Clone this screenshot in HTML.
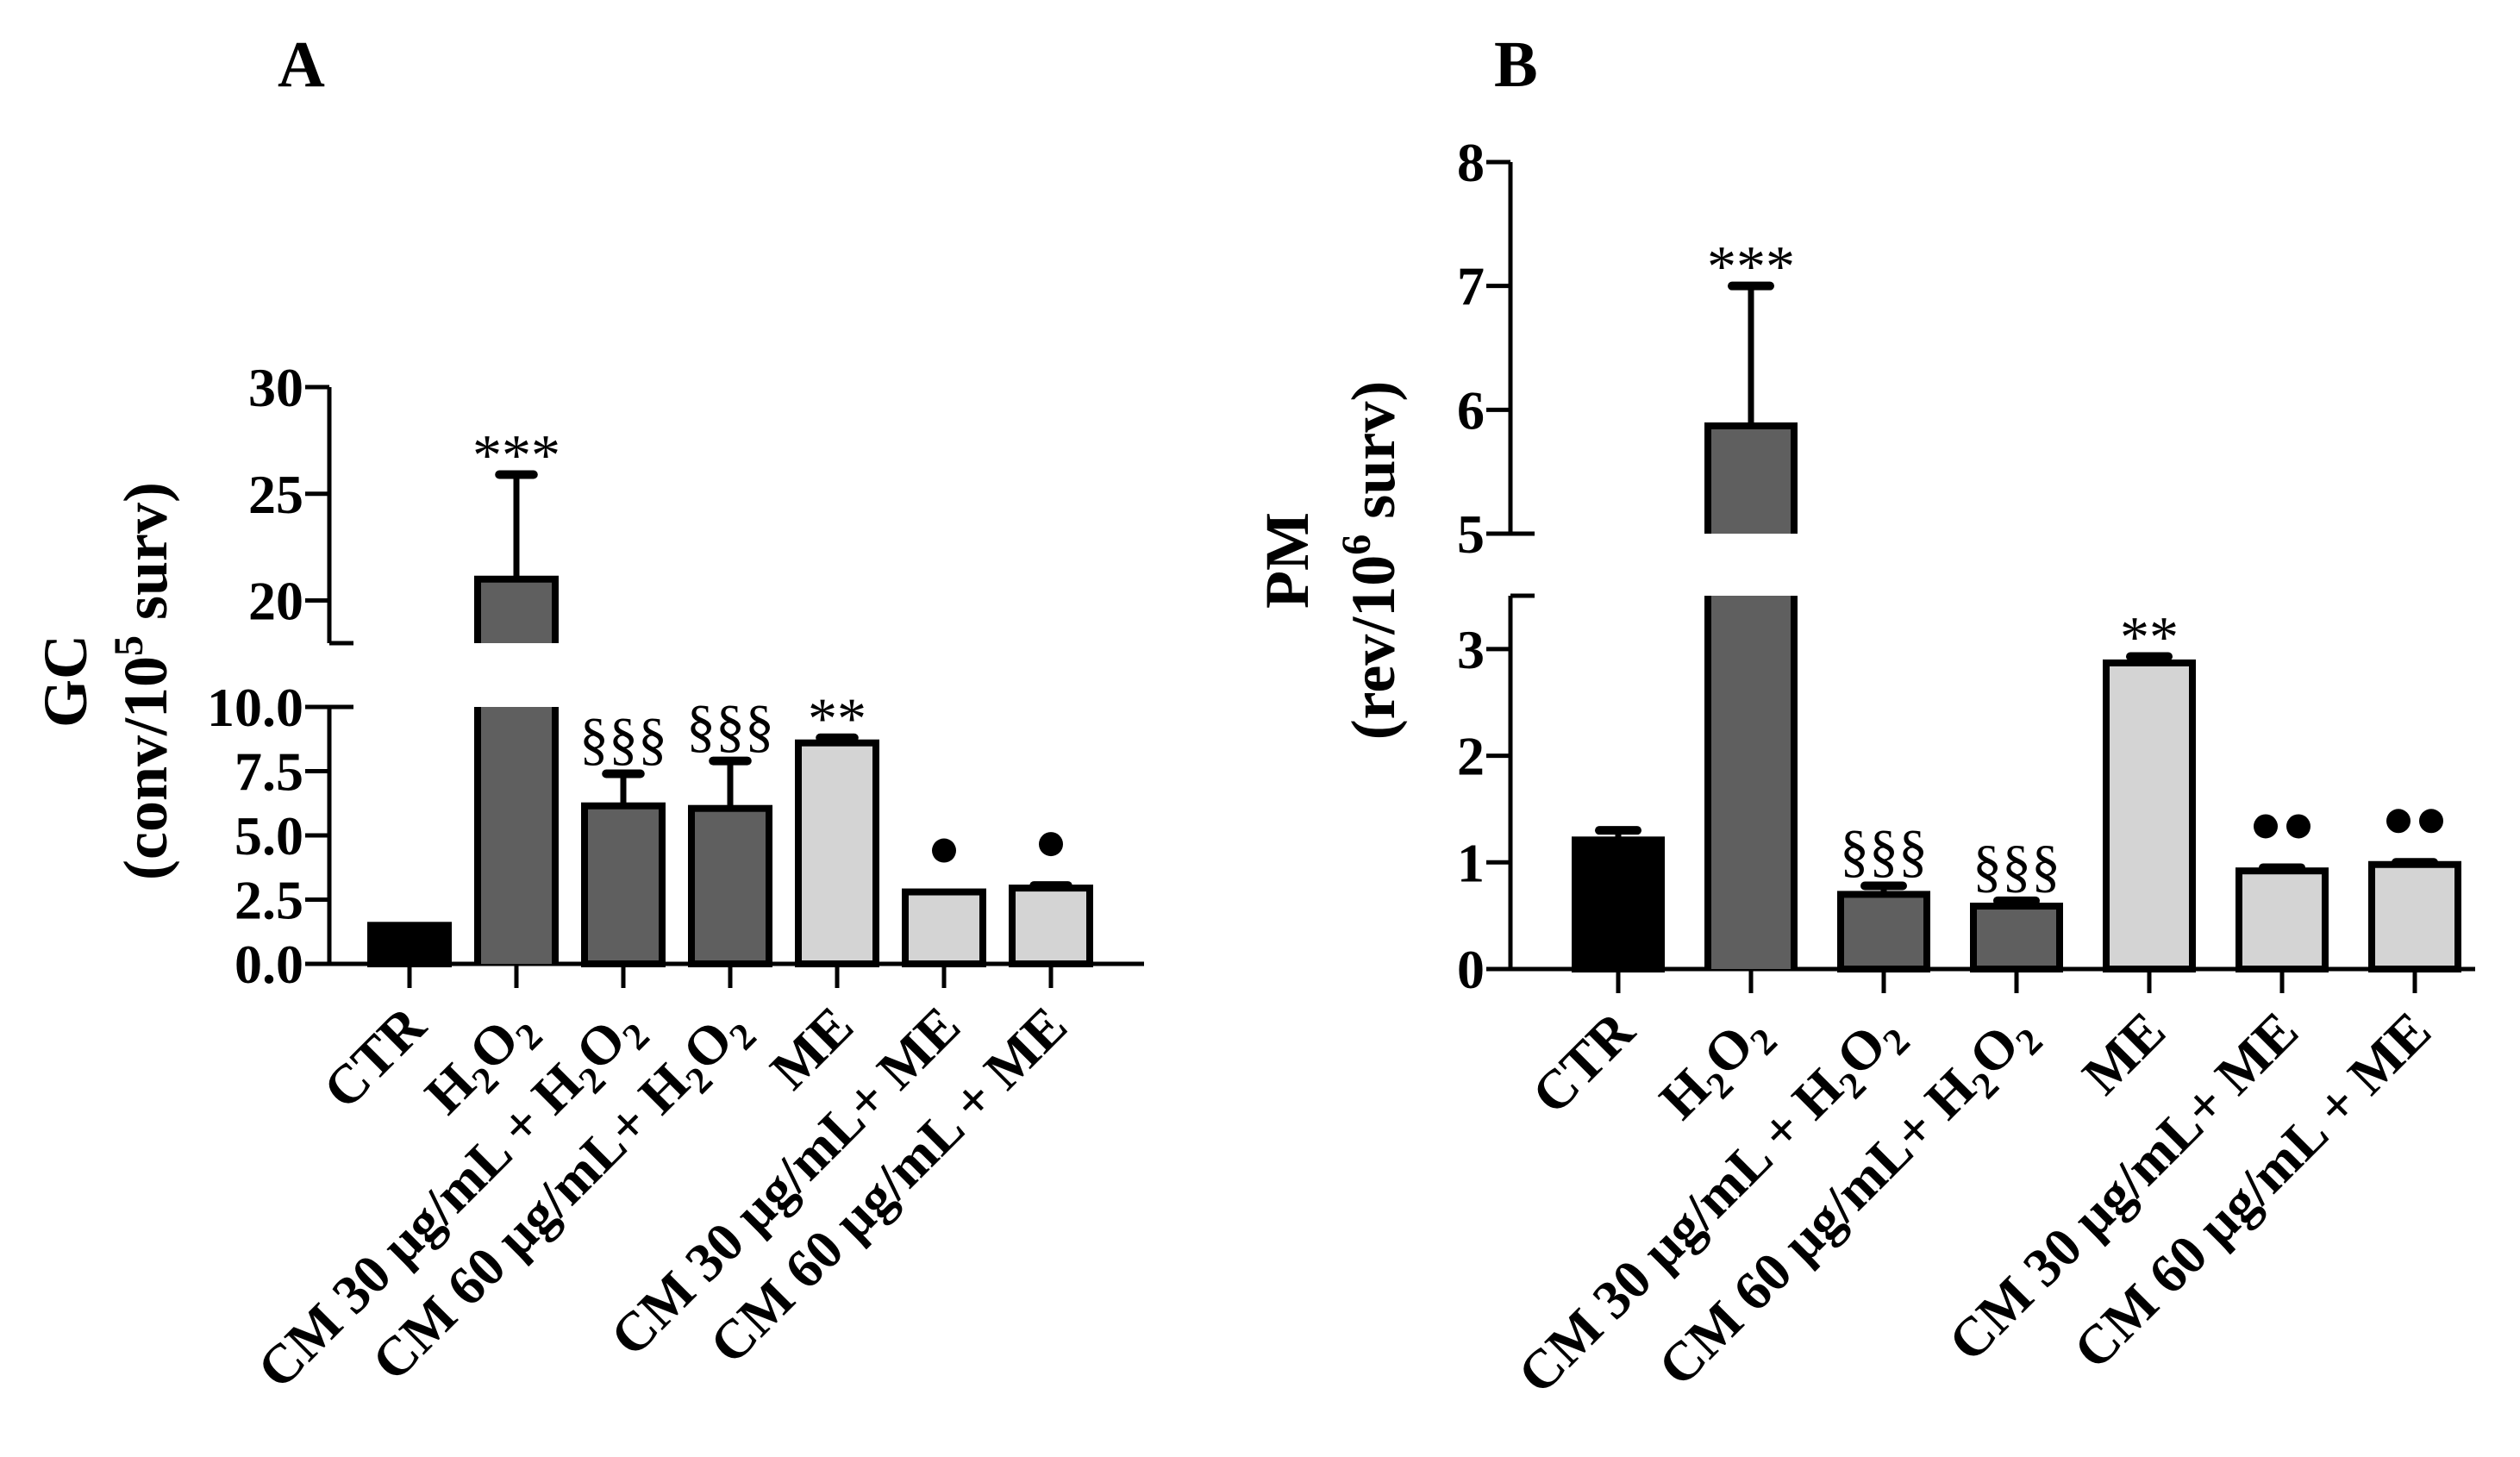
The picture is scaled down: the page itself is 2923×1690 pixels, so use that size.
<!DOCTYPE html>
<html><head><meta charset="utf-8"><style>
html,body{margin:0;padding:0;background:#fff;}
svg{display:block;font-family:"Liberation Serif",serif;}
</style></head><body>
<svg id="fig" width="2923" height="1690" viewBox="0 0 2923 1690" xmlns="http://www.w3.org/2000/svg">
<text x="322" y="100" font-size="76" font-weight="bold">A</text>
<text x="1733" y="100" font-size="76" font-weight="bold">B</text>
<g transform="translate(100,790) rotate(-90)" font-weight="bold" font-size="72" text-anchor="middle">
<text x="0" y="0">GC</text>
<text x="0" y="93">(conv/10<tspan font-size="48" dy="-28">5</tspan><tspan dy="28"> surv)</tspan></text>
</g>
<g transform="translate(1517,650) rotate(-90)" font-weight="bold" font-size="72" text-anchor="middle">
<text x="0" y="0">PM</text>
<text x="0" y="100">(rev/10<tspan font-size="48" dy="-28">6</tspan><tspan dy="28"> surv)</tspan></text>
</g>
<g id="pa"></g>
<g id="pb"></g>
</svg>
<script>
const categories = ["CTR","H2O2","CM 30 µg/mL + H2O2","CM 60 µg/mL+ H2O2","ME","CM 30 µg/mL+ ME","CM 60 µg/mL + ME"];
const colors = ["#000000","#5f5f5f","#5f5f5f","#5f5f5f","#d4d4d4","#d4d4d4","#d4d4d4"];
const gcValues = [1.5, 21.0, 6.15, 6.05, 8.6, 2.8, 2.95];
const gcErrors = [0, 4.9, 1.25, 1.85, 0.2, 0, 0.1];
const gcMarks = ["","***","§§§","§§§","**","•","•"];
const pmValues = [1.21, 5.87, 0.70, 0.59, 2.87, 0.92, 0.98];
const pmErrors = [0.09, 1.13, 0.08, 0.05, 0.06, 0.03, 0.02];
const pmMarks = ["","***","§§§","§§§","**","••","••"];
const gcLowTicks = ["0.0","2.5","5.0","7.5","10.0"];
const gcHighTicks = ["20","25","30"];
const pmLowTicks = ["0","1","2","3"];
const pmHighTicks = ["5","6","7","8"];

const NS="http://www.w3.org/2000/svg";
function mk(parent,tag,attrs){const e=document.createElementNS(NS,tag);for(const k in attrs)e.setAttribute(k,attrs[k]);parent.appendChild(e);return e;}

function drawPanel(g,cfg){
  const {ax,axEnd,y0,lowMax,lowTop,hiMin,hiMinY,hiMax,hiMaxY,x0,step,bw,values,errors,marks,lowTicks,hiTicks,tickFont,markFont}=cfg;
  const yLow=v=>y0-(v/lowMax)*(y0-lowTop);
  const yHi=v=>hiMinY-(v-hiMin)/(hiMax-hiMin)*(hiMinY-hiMaxY);
  const yOf=v=>v>lowMax?yHi(v):yLow(v);
  const xOf=i=>x0+i*step;
  const sw=8;
  let l=mk(g,'line',{x1:ax,y1:y0,x2:ax,y2:lowTop,stroke:'#000','stroke-width':5});
  
  
  l=mk(g,'line',{x1:ax,y1:hiMinY,x2:ax,y2:hiMaxY,stroke:'#000','stroke-width':5});
  
  
  l=mk(g,'line',{x1:ax-28,y1:y0,x2:axEnd,y2:y0,stroke:'#000','stroke-width':5});
  
  
  lowTicks.forEach(t=>{const y=yLow(parseFloat(t));
    mk(g,'line',{x1:ax-28,y1:y,x2:ax,y2:y,stroke:'#000','stroke-width':5});
    const tx=mk(g,'text',{x:ax-30,y:y+22,'font-size':tickFont,'font-weight':'bold','text-anchor':'end'});tx.textContent=t;
    
    });
  hiTicks.forEach(t=>{const y=yHi(parseFloat(t));
    mk(g,'line',{x1:ax-28,y1:y,x2:ax,y2:y,stroke:'#000','stroke-width':5});
    const tx=mk(g,'text',{x:ax-30,y:y+22,'font-size':tickFont,'font-weight':'bold','text-anchor':'end'});tx.textContent=t;
    
    });
  mk(g,'line',{x1:ax,y1:hiMinY,x2:ax+28,y2:hiMinY,stroke:'#000','stroke-width':5});
  mk(g,'line',{x1:ax,y1:lowTop,x2:ax+28,y2:lowTop,stroke:'#000','stroke-width':5});
  values.forEach((v,i)=>{
    const cx=xOf(i),x=cx-bw/2;
    mk(g,'line',{x1:cx,y1:y0,x2:cx,y2:y0+28,stroke:'#000','stroke-width':5});
    const bg=mk(g,'g',{});
    
    
    const top=yOf(v),errTop=yOf(v+errors[i]);
    if(errors[i]>0){
      mk(bg,'line',{x1:cx,y1:top,x2:cx,y2:errTop,stroke:'#000','stroke-width':7});
      mk(bg,'line',{x1:cx-bw*0.22,y1:errTop,x2:cx+bw*0.22,y2:errTop,stroke:'#000','stroke-width':10,'stroke-linecap':'round'});
    }
    if(v>lowMax){
      mk(bg,'rect',{x:x,y:lowTop,width:bw,height:y0-lowTop,fill:colors[i]});
      mk(bg,'path',{d:`M${x} ${y0}V${lowTop}M${x+bw} ${y0}V${lowTop}`,stroke:'#000','stroke-width':sw,fill:'none'});
      mk(bg,'rect',{x:x,y:top,width:bw,height:hiMinY-top,fill:colors[i]});
      mk(bg,'path',{d:`M${x} ${hiMinY}V${top}H${x+bw}V${hiMinY}`,stroke:'#000','stroke-width':sw,fill:'none'});
    } else {
      mk(bg,'rect',{x:x,y:top,width:bw,height:y0-top,fill:colors[i],stroke:'#000','stroke-width':sw});
    }
    const m=marks[i];
    if(m){
      if(m.startsWith('•')){
        const n=m.length;
        for(let k=0;k<n;k++){
          const c=mk(g,'circle',{cx:cx+(k-(n-1)/2)*38,cy:errTop-48,r:14,fill:'#000'});
          
          
        }
      } else {
        const tx=mk(g,'text',{x:cx,y:errTop-(m.startsWith('*')?0:18),'font-size':markFont,'text-anchor':'middle'});
        tx.textContent=m;
        
        
      }
    }
    const lab=mk(g,'text',{transform:`translate(${cx+22},${y0+76}) rotate(-45)`,'font-size':64,'font-weight':'bold','text-anchor':'end'});
    
    
    const parts=categories[i].split('H2O2');
    if(parts.length>1){
      lab.appendChild(document.createTextNode(parts[0]+'H'));
      const s1=mk(lab,'tspan',{dy:15,'font-size':44});s1.textContent='2';
      const s2=mk(lab,'tspan',{dy:-15});s2.textContent='O';
      const s3=mk(lab,'tspan',{dy:15,'font-size':44});s3.textContent='2';
    } else lab.textContent=categories[i];
  });
}
drawPanel(document.getElementById('pa'),{ax:382,axEnd:1327,y0:1118,lowMax:10,lowTop:820,hiMin:18,hiMinY:746,hiMax:30,hiMaxY:449,
  x0:475,step:124,bw:90,values:gcValues,errors:gcErrors,marks:gcMarks,lowTicks:gcLowTicks,hiTicks:gcHighTicks,tickFont:64,markFont:68});
drawPanel(document.getElementById('pb'),{ax:1752,axEnd:2871,y0:1124,lowMax:3.5,lowTop:691,hiMin:5,hiMinY:619,hiMax:8,hiMaxY:188,
  x0:1877,step:154,bw:100,values:pmValues,errors:pmErrors,marks:pmMarks,lowTicks:pmLowTicks,hiTicks:pmHighTicks,tickFont:64,markFont:68});
</script>
</body></html>
